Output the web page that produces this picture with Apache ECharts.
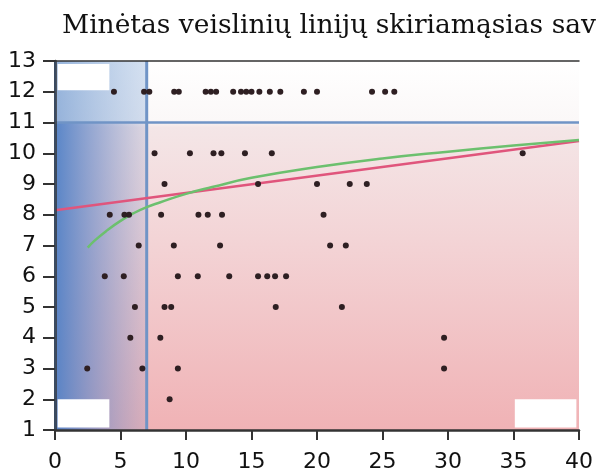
<!DOCTYPE html>
<html>
<head>
<meta charset="utf-8">
<script src="https://cdn.jsdelivr.net/npm/echarts@6/dist/echarts.min.js"></script>
<style>
html,body{margin:0;padding:0;background:#fff;}
#chart{width:596px;height:473px;}
</style>
</head>
<body>
<div id="chart"></div>
<script>
// ---- data ----
const titleText = 'Minėtas veislinių linijų skiriamąsias sav';
const xTicks = [0, 5, 10, 15, 20, 25, 30, 35, 40];
const yTicks = [1, 2, 3, 4, 5, 6, 7, 8, 9, 10, 11, 12, 13];

const rowY = [12, 10, 9, 8, 7, 6, 5, 4, 3, 2];
const rowX = [
  [4.5, 6.8, 7.2, 9.1, 9.45, 11.5, 11.9, 12.3, 13.6, 14.2, 14.6, 15.0, 15.6, 16.4, 17.2, 19.0, 20.0, 24.2, 25.2, 25.9],
  [7.6, 10.3, 12.1, 12.7, 14.5, 16.55, 35.7],
  [8.36, 15.5, 20.0, 22.5, 23.8],
  [4.18, 5.3, 5.65, 8.1, 10.95, 11.66, 12.75, 20.5],
  [6.39, 9.07, 12.6, 21.0, 22.2],
  [3.8, 5.25, 9.38, 10.9, 13.3, 15.5, 16.2, 16.8, 17.64],
  [6.1, 8.36, 8.87, 16.85, 21.9],
  [5.75, 8.04, 29.7],
  [2.46, 6.67, 9.38, 29.7],
  [8.75]
];

const redX = [0, 40];
const redY = [8.15, 10.4];

const greenX = [2.5, 3, 4, 5, 6, 7, 8, 10, 12, 15, 20, 25, 30, 35, 40];
const greenY = [6.93, 7.15, 7.5, 7.8, 8.05, 8.25, 8.4, 8.68, 8.9, 9.2, 9.55, 9.83, 10.05, 10.25, 10.43];

const vLineX = 7;
const hLineY = 11;

// ---- build ----
const scatterData = [];
rowY.forEach((y, i) => rowX[i].forEach(x => scatterData.push([x, y])));
const redData = redX.map((x, i) => [x, redY[i]]);
const greenData = greenX.map((x, i) => [x, greenY[i]]);

const chart = echarts.init(document.getElementById('chart'));
const axisLabelStyle = {color: '#111', fontSize: 22, fontFamily: 'DejaVu Sans'};

chart.setOption({
  animation: false,
  title: {
    text: titleText, left: 57, top: 8,
    textStyle: {fontFamily: 'DejaVu Serif', fontWeight: 'normal', fontSize: 26.5, color: '#111'}
  },
  grid: {left: 55, right: 15, top: 61, bottom: 41, containLabel: false},
  xAxis: [{
    type: 'value', min: 0, max: 40, interval: 5, z: 10,
    axisLine: {show: true, lineStyle: {color: '#333', width: 2.5}},
    axisTick: {show: true, length: 10, lineStyle: {color: '#333', width: 2}},
    axisLabel: Object.assign({margin: 21}, axisLabelStyle),
    splitLine: {show: false}
  }, {
    type: 'value', min: 0, max: 40, position: 'top', z: 10,
    axisLine: {show: true, lineStyle: {color: '#333', width: 1.5}},
    axisTick: {show: false}, axisLabel: {show: false}, splitLine: {show: false}
  }],
  yAxis: [{
    type: 'value', min: 1, max: 13, interval: 1, z: 10,
    axisLine: {show: true, lineStyle: {color: '#333', width: 2.5}},
    axisTick: {show: true, length: 12, lineStyle: {color: '#333', width: 2}},
    axisLabel: Object.assign({margin: 19}, axisLabelStyle),
    splitLine: {show: false}
  }, {
    type: 'value', min: 1, max: 13, position: 'right', z: 10,
    axisLine: {show: true, lineStyle: {color: '#3a4a60', width: 2}},
    axisTick: {show: false}, axisLabel: {show: false}, splitLine: {show: false}
  }],
  series: [
    {
      type: 'scatter', data: [], silent: true, z: 1,
      markArea: {
        silent: true,
        data: [
          [{coord: [0, 13], itemStyle: {color: {type: 'linear', x: 0, y: 0, x2: 0, y2: 1, colorStops: [
            {offset: 0, color: '#ffffff'}, {offset: 0.16, color: '#fbf8f8'},
            {offset: 0.18, color: '#f4e6e7'}, {offset: 0.5, color: '#f3d3d5'}, {offset: 1, color: '#f0b2b5'}]}}},
           {coord: [40, 1]}],
          [{coord: [0, 11], itemStyle: {color: {type: 'linear', x: 0, y: 0, x2: 1, y2: 0, colorStops: [
            {offset: 0, color: 'rgba(80,128,198,0.95)'}, {offset: 0.5, color: 'rgba(110,140,200,0.6)'},
            {offset: 1, color: 'rgba(130,150,200,0.2)'}]}}},
           {coord: [7, 1]}],
          [{coord: [0, 13], itemStyle: {color: {type: 'linear', x: 0, y: 0, x2: 1, y2: 0, colorStops: [
            {offset: 0, color: 'rgba(105,148,205,0.7)'}, {offset: 1, color: 'rgba(150,180,220,0.4)'}]}}},
           {coord: [7, 11]}],
          [{coord: [0.2, 12.9], itemStyle: {color: '#ffffff'}}, {coord: [4.15, 12.05]}],
          [{coord: [0.2, 2.0], itemStyle: {color: '#ffffff'}}, {coord: [4.15, 1.08]}],
          [{coord: [35.1, 2.0], itemStyle: {color: '#ffffff'}}, {coord: [39.8, 1.08]}]
        ]
      }
    },
    {
      type: 'line', data: [[vLineX, 1], [vLineX, 13]], symbol: 'none', silent: true, z: 3,
      lineStyle: {color: '#7094c6', width: 3}
    },
    {
      type: 'line', data: [[0, hLineY], [40, hLineY]], symbol: 'none', silent: true, z: 3,
      lineStyle: {color: '#7094c6', width: 2.5}
    },
    {
      type: 'line', data: redData, symbol: 'none', silent: true, z: 4,
      lineStyle: {color: '#e0557c', width: 2.5}
    },
    {
      type: 'line', data: greenData, symbol: 'none', smooth: true, silent: true, z: 4,
      lineStyle: {color: '#6cc06e', width: 2.5}
    },
    {
      type: 'scatter', data: scatterData, symbol: 'circle', symbolSize: 6, z: 5,
      itemStyle: {color: '#2e1f22', opacity: 1}
    }
  ]
});
</script>
</body>
</html>
